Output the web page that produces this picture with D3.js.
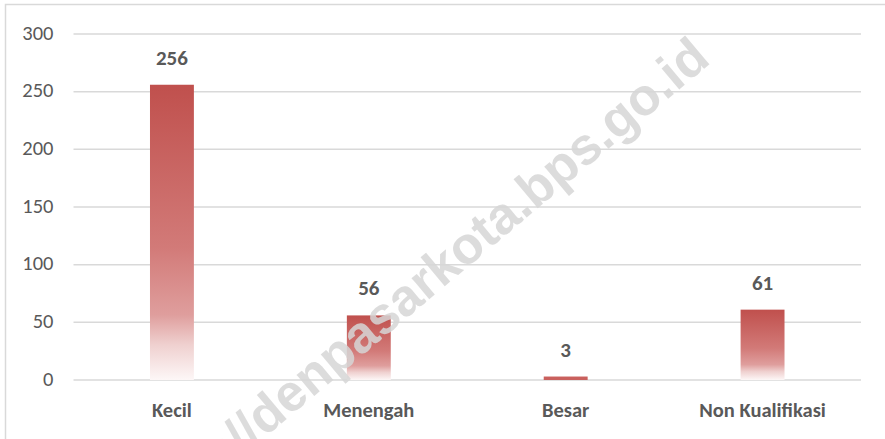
<!DOCTYPE html>
<html>
<head>
<meta charset="utf-8">
<script src="https://cdn.jsdelivr.net/npm/d3@7"></script>
<style>
  body { margin: 0; background: #fff; }
  svg { display: block; font-family: Calibri, Carlito, Lato, sans-serif; }
</style>
</head>
<body>
<svg id="chart" width="885" height="439"></svg>
<script>
const categories = ['Kecil', 'Menengah', 'Besar', 'Non Kualifikasi']
const values = [256, 56, 3, 61]
const yTicks = [0, 50, 100, 150, 200, 250, 300]

const svg = d3.select('#chart')
const margin = { top: 34, right: 24, bottom: 59, left: 73.5 }
const width = 885 - margin.left - margin.right
const height = 439 - margin.top - margin.bottom

// chart frame
svg.append('rect')
    .attr('x', 5.5).attr('y', 4.5)
    .attr('width', 885).attr('height', 445)
    .attr('fill', 'none')
    .attr('stroke', '#d9d9d9')
    .attr('stroke-width', 1.5)

const defs = svg.append('defs')
const grad = defs.append('linearGradient')
    .attr('id', 'barFill')
    .attr('x1', 0).attr('y1', 0).attr('x2', 0).attr('y2', 1)
grad.selectAll('stop')
    .data([
        { o: 0, c: '#c0504d' },
        { o: 0.55, c: '#d27a78' },
        { o: 0.78, c: '#df9e9d' },
        { o: 0.88, c: '#efd0cf' },
        { o: 1, c: '#fdf7f7' },
    ])
    .join('stop')
    .attr('offset', d => d.o)
    .attr('stop-color', d => d.c)

const g = svg.append('g').attr('transform', `translate(${margin.left},${margin.top})`)

const x = d3.scaleBand().domain(categories).range([0, width]).paddingInner(0.777).paddingOuter(0.3885)
const y = d3.scaleLinear().domain([0, 300]).range([height, 0])

// gridlines
g.selectAll('line.grid')
    .data(yTicks)
    .join('line')
    .attr('class', 'grid')
    .attr('x1', 0).attr('x2', width)
    .attr('y1', d => y(d)).attr('y2', d => y(d))
    .attr('stroke', '#d9d9d9')
    .attr('stroke-width', 1.5)

// y tick labels
g.selectAll('text.ytick')
    .data(yTicks)
    .join('text')
    .attr('class', 'ytick')
    .attr('x', -20)
    .attr('y', d => y(d) - 1.5)
    .attr('dy', '0.35em')
    .attr('text-anchor', 'end')
    .attr('fill', '#595959')
    .style('font-size', '20.5px')
    .text(d => d)

// watermark
svg.append('text')
    .attr('transform', 'translate(712,62) rotate(-40)')
    .attr('text-anchor', 'end')
    .attr('fill', '#d6d6d6')
    .attr('fill-opacity', 0.85)
    .style('font-family', '"Liberation Sans", Arial, sans-serif')
    .style('font-weight', 'bold')
    .style('font-size', '52px')
    .text('https://denpasarkota.bps.go.id')

// bars
g.selectAll('rect.bar')
    .data(values)
    .join('rect')
    .attr('class', 'bar')
    .attr('x', (d, i) => x(categories[i]))
    .attr('y', d => y(d))
    .attr('width', x.bandwidth())
    .attr('height', d => height - y(d))
    .attr('fill', (d, i) => d < 10 ? '#c9605d' : 'url(#barFill)')

// value labels
g.selectAll('text.val')
    .data(values)
    .join('text')
    .attr('class', 'val')
    .attr('x', (d, i) => x(categories[i]) + x.bandwidth() / 2)
    .attr('y', d => y(d) - 20)
    .attr('text-anchor', 'middle')
    .attr('fill', '#595959')
    .style('font-size', '21px')
    .style('font-weight', 'bold')
    .text(d => d)

// category labels
g.selectAll('text.cat')
    .data(categories)
    .join('text')
    .attr('class', 'cat')
    .attr('x', d => x(d) + x.bandwidth() / 2)
    .attr('y', height + 37)
    .attr('text-anchor', 'middle')
    .attr('fill', '#595959')
    .style('font-size', '20.5px')
    .style('font-weight', 'bold')
    .text(d => d)
</script>
</body>
</html>
